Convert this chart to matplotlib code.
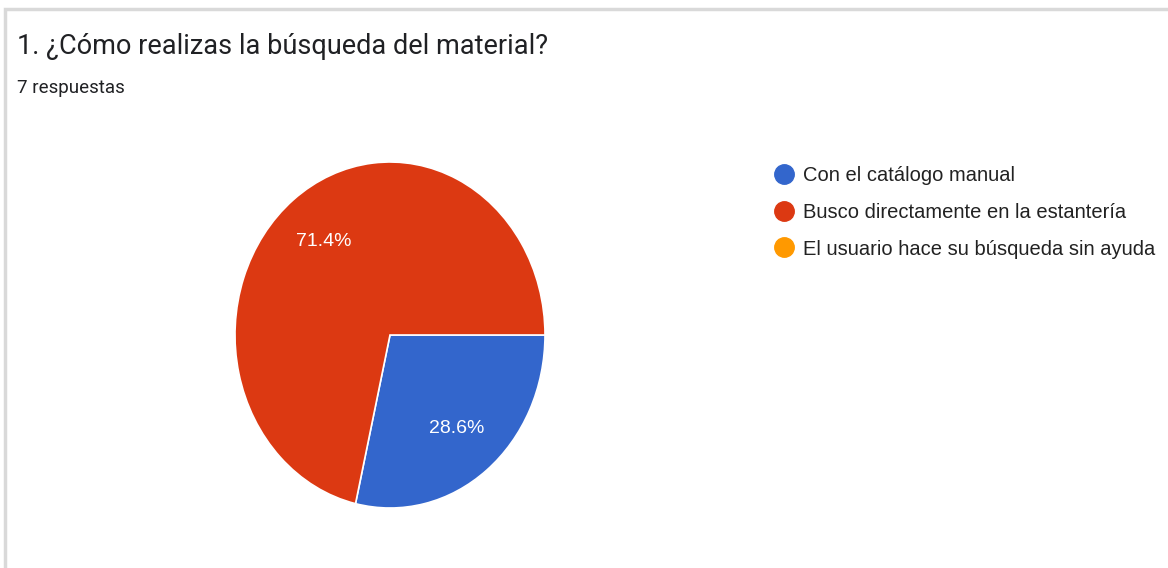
import matplotlib.pyplot as plt
from matplotlib.lines import Line2D
from matplotlib.patches import Rectangle

# datos de la encuesta
categorias = ['Con el catálogo manual',
              'Busco directamente en la estantería',
              'El usuario hace su búsqueda sin ayuda']
respuestas = [2, 5, 0]
colores = ['#3366cc', '#dc3912', '#ff9900']

titulo = '1. ¿Cómo realizas la búsqueda del material?'
subtitulo = '7 respuestas'

W, H = 1168, 568
fig = plt.figure(figsize=(W / 100, H / 100), dpi=100)

# marco gris de la tarjeta
fig.patches.append(Rectangle((5 / W, -0.1), 1.2, 1 - 9 / H + 0.1, transform=fig.transFigure,
                             fill=False, edgecolor='#d9d9d9', linewidth=2.5))

fig.text(17 / W, 1 - 46 / H, titulo, fontsize=19.5, family='Roboto', color='#202124', va='center')
fig.text(17 / W, 1 - 88 / H, subtitulo, fontsize=13.5, family='Roboto', color='#202124', va='center')

# el pie (elipse, como en la captura)
ax = fig.add_axes([235 / W, (H - 508) / H, 310 / W, 346 / H])
vals = [v for v in respuestas if v > 0]
cols = [c for v, c in zip(respuestas, colores) if v > 0]
wedges, _, autotexts = ax.pie(vals, colors=cols, startangle=0, counterclock=False,
                              autopct='%1.1f%%', pctdistance=0.69,
                              wedgeprops=dict(edgecolor='white', linewidth=1.2),
                              textprops=dict(color='white', fontsize=14, family='Liberation Sans'))
ax.set_aspect('auto')
ax.set_xlim(-1, 1)
ax.set_ylim(-1, 1)
ax.axis('off')

# leyenda
handles = [Line2D([], [], marker='o', linestyle='', markersize=14,
                  markerfacecolor=c, markeredgecolor=c) for c in colores]
fig.legend(handles, categorias, loc='upper left', bbox_to_anchor=(759 / W, 1 - 156 / H),
           frameon=False, prop=dict(family='Liberation Sans', size=14.5),
           labelcolor='#222222', handletextpad=0.2, labelspacing=0.88,
           borderpad=0, handlelength=1.5)

fig.savefig('out.png', dpi=100)
